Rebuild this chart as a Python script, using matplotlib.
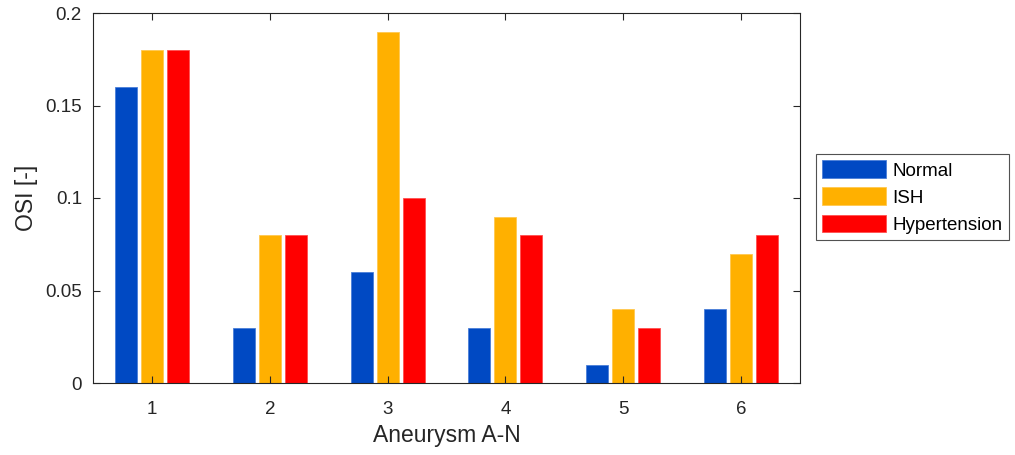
import matplotlib
matplotlib.use("Agg")
import matplotlib.pyplot as plt
import numpy as np

plt.rcParams['font.family'] = ['Liberation Sans', 'DejaVu Sans']

categories = ['1', '2', '3', '4', '5', '6']
normal = [0.16, 0.03, 0.06, 0.03, 0.01, 0.04]
ish = [0.18, 0.08, 0.19, 0.09, 0.04, 0.07]
hypertension = [0.18, 0.08, 0.10, 0.08, 0.03, 0.08]
series_names = ['Normal', 'ISH', 'Hypertension']
colors = ['#0049C3', '#FFB000', '#FF0000']
edge_colors = ['#4A7FD8', '#FFC850', '#FF5050']

fig = plt.figure(figsize=(10.15, 4.55), dpi=100)
ax = fig.add_axes([93/1015, 1 - 383/455, (800-93)/1015, (383-13)/455])

x = np.arange(1, len(categories) + 1)
offset = 0.2207
width = 0.187
for i, (vals, name, c, ec) in enumerate(zip([normal, ish, hypertension], series_names, colors, edge_colors)):
    ax.bar(x + (i - 1) * offset, vals, width, color=c, edgecolor=ec, linewidth=0.6, label=name)

ax.set_xlim(0.5, 6.5)
ax.set_ylim(0, 0.2)
ax.set_xticks(x)
ax.set_xticklabels(categories)
ax.set_yticks([0, 0.05, 0.1, 0.15, 0.2])
ax.set_yticklabels(['0', '0.05', '0.1', '0.15', '0.2'])
ax.tick_params(direction='in', top=True, right=True, labelsize=13.5, colors='#262626', length=5, width=0.8, pad=8)
ax.tick_params(axis='x', pad=13)
for s in ax.spines.values():
    s.set_color('#262626')
    s.set_linewidth(0.8)
ax.set_xlabel('Aneurysm A-N', fontsize=16.5, color='#262626', labelpad=4)
ax.set_ylabel('OSI [-]', fontsize=16.5, color='#262626', labelpad=5)

leg = ax.legend(loc='upper left', bbox_to_anchor=(816/1015, 1 - 154/455),
                bbox_transform=fig.transFigure, fontsize=13.5, frameon=True, fancybox=False,
                edgecolor='#262626', handlelength=3.4, handleheight=1.07, handletextpad=0.32,
                labelspacing=0.42, borderaxespad=0, borderpad=0.34)
leg.get_frame().set_linewidth(0.8)

fig.savefig('out.png', dpi=100)
